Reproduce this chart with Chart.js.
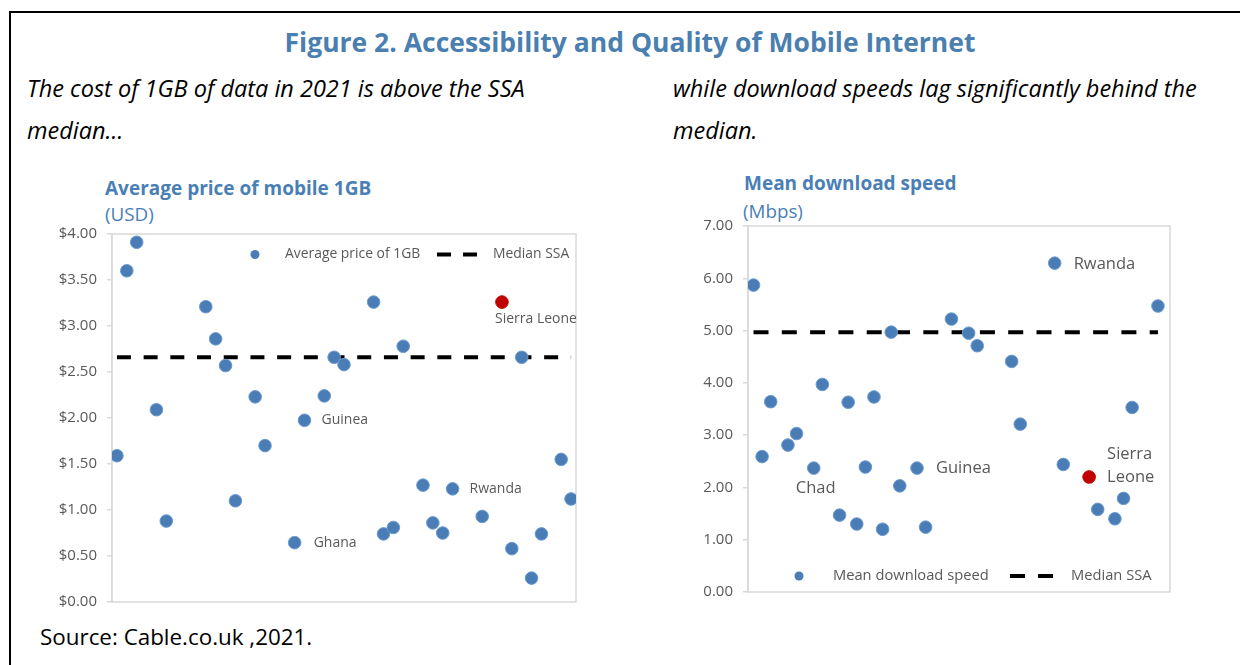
<!DOCTYPE html>
<html>
<head>
<meta charset="utf-8">
<script src="https://cdn.jsdelivr.net/npm/chart.js@4.4.1/dist/chart.umd.min.js"></script>
<style>
  html, body { margin:0; padding:0; width:1240px; height:665px; overflow:hidden; background:#fff; }
  body { position:relative; font-family:"Open Sans", "Noto Sans", sans-serif; }
  .frame { position:absolute; left:9px; top:11px; width:1300px; height:800px; border:2px solid #000; box-sizing:border-box; }
  .t { position:absolute; white-space:nowrap; }
  #mainTitle { left:0; width:1260px; text-align:center; top:24px; line-height:36px; font-size:26.5px; font-weight:700; color:#4a7fb0; }
  .sub { font-size:23.5px; font-style:italic; color:#000; line-height:42px; }
  .ctitle { font-size:19px; font-weight:700; color:#4a7fb5; line-height:26px; }
  .cunit { font-size:18.8px; color:#4a7fb5; line-height:26px; }
  #source { left:40px; top:622px; font-size:22.4px; line-height:30px; color:#000; }
  canvas { position:absolute; }
</style>
</head>
<body>
<div class="frame"></div>
<div id="mainTitle" class="t">Figure 2. Accessibility and Quality of Mobile Internet</div>
<div class="t sub" style="left:27px; top:67px;">The cost of 1GB of data in 2021 is above the SSA<br>median…</div>
<div class="t sub" style="left:673px; top:67px;">while download speeds lag significantly behind the<br>median.</div>
<div class="t ctitle" style="left:105px; top:175px;">Average price of mobile 1GB</div>
<div class="t cunit" style="left:105px; top:201px;">(USD)</div>
<div class="t ctitle" style="left:744px; top:170px;">Mean download speed</div>
<div class="t cunit" style="left:743px; top:198px;">(Mbps)</div>
<div id="source" class="t">Source: Cable.co.uk ,2021.</div>

<canvas id="c1" width="550" height="406" style="left:40px; top:215px;"></canvas>
<canvas id="c2" width="510" height="404" style="left:680px; top:207px;"></canvas>

<script>
// ---------- DATA ----------
// Left chart: average price of 1GB (USD), countries positioned along a hidden x index
const priceX      = [1,2,3,5,6,10,11,12,13,15,16,19,20,22,23,24,27,28,29,30,32,33,34,35,38,40,41,42,43,44,46,47];
const priceValues = [1.59,3.60,3.91,2.09,0.88,3.21,2.86,2.57,1.10,2.23,1.70,0.645,1.975,2.24,2.66,2.58,3.26,0.74,0.81,2.78,1.27,0.86,0.75,1.23,0.93,3.26,0.58,2.66,0.26,0.74,1.55,1.12];
const priceHighlight = [25];               // Sierra Leone (red)
const priceMedianX = [1, 47];
const priceMedian  = 2.66;
const priceTicks   = ['$0.00','$0.50','$1.00','$1.50','$2.00','$2.50','$3.00','$3.50','$4.00'];
const priceLabelIdx  = [11, 12, 23, 25];
const priceLabelText = [['Ghana'], ['Guinea'], ['Rwanda'], ['Sierra Leone']];

// Right chart: mean download speed (Mbps)
const speedX      = [1,2,3,5,6,8,9,11,12,13,14,15,16,17,18,20,21,24,26,27,31,32,36,37,40,41,43,44,45,48];
const speedValues = [5.87,2.59,3.64,2.81,3.03,2.37,3.97,1.47,3.63,1.30,2.39,3.73,1.20,4.97,2.03,2.37,1.24,5.22,4.95,4.71,4.41,3.21,6.29,2.44,2.20,1.58,1.40,1.79,3.53,5.47];
const speedHighlight = [24];               // Sierra Leone (red)
const speedMedianX = [1, 48];
const speedMedian  = 4.97;
const speedTicks   = ['0.00','1.00','2.00','3.00','4.00','5.00','6.00','7.00'];
const speedLabelIdx  = [22, 15, 5, 24];
const speedLabelText = [['Rwanda'], ['Guinea'], ['Chad'], ['Sierra', 'Leone']];

const seriesNames = { price: 'Average price of 1GB', speed: 'Mean download speed', median: 'Median SSA' };

// ---------- STYLE ----------
const FONT = '"Open Sans", "Noto Sans", sans-serif';
const BLUE = '#4a7db5', BLUE_EDGE = '#6d9bd0', RED = '#c00000', GRID = '#d9d9d9', TXT = '#595959';

const overlay = {
  id: 'overlay',
  beforeDatasetsDraw(chart, args, o) {
    const a = chart.chartArea, ctx = chart.ctx;
    ctx.save();
    ctx.strokeStyle = GRID; ctx.lineWidth = 1.5;
    ctx.strokeRect(a.left, a.top, a.right - a.left, a.bottom - a.top);
    ctx.restore();
  },
  afterDraw(chart, args, o) {
    const ctx = chart.ctx, a = chart.chartArea;
    const meta = chart.getDatasetMeta(0);
    ctx.save();
    ctx.fillStyle = TXT;
    ctx.textBaseline = 'middle';
    ctx.textAlign = 'left';
    // data labels
    ctx.font = o.labelSize + 'px ' + FONT;
    o.labelIdx.forEach((idx, k) => {
      const p = meta.data[idx];
      const off = o.labelOffsets[k];
      o.labelText[k].forEach((line, j) => {
        ctx.fillText(line, p.x + off[0], p.y + off[1] + j * o.labelLineH);
      });
    });
    // legend
    const L = o.legend;
    ctx.font = L.size + 'px ' + FONT;
    const ly = a.top + L.dy;
    ctx.fillStyle = BLUE;
    ctx.beginPath(); ctx.arc(a.left + L.marker, ly, 4.5, 0, Math.PI * 2); ctx.fill();
    ctx.fillStyle = TXT;
    ctx.fillText(L.text1, a.left + L.t1, ly);
    ctx.strokeStyle = '#000'; ctx.lineWidth = 4; ctx.setLineDash(L.dash);
    ctx.beginPath(); ctx.moveTo(a.left + L.l1, ly); ctx.lineTo(a.left + L.l2, ly); ctx.stroke();
    ctx.setLineDash([]);
    ctx.fillText(L.text2, a.left + L.t2, ly);
    ctx.restore();
  }
};

function makeChart(id, xs, ys, hi, medX, med, ticks, yMax, step, xMin, xMax, yWidth, pad, dash, overlayOpts, name) {
  const pts = xs.map((x, i) => ({ x: x, y: ys[i] }));
  const fills = ys.map((v, i) => hi.includes(i) ? RED : BLUE);
  const edges = ys.map((v, i) => hi.includes(i) ? RED : BLUE_EDGE);
  return new Chart(document.getElementById(id), {
    type: 'scatter',
    data: {
      datasets: [
        { label: name, data: pts, backgroundColor: fills, borderColor: edges, borderWidth: 1, pointRadius: 6.3, pointHoverRadius: 6.3 },
        { label: seriesNames.median, type: 'line', data: medX.map(x => ({ x: x, y: med })), borderColor: '#000',
          borderWidth: 4, borderDash: dash, pointRadius: 0, showLine: true, fill: false, borderCapStyle: 'butt' }
      ]
    },
    options: {
      responsive: false, animation: false, events: [],
      layout: { padding: pad },
      plugins: { legend: { display: false }, tooltip: { enabled: false }, overlay: overlayOpts },
      scales: {
        x: { type: 'linear', min: xMin, max: xMax, display: false },
        y: {
          min: 0, max: yMax,
          ticks: { stepSize: step, color: TXT, font: { family: FONT, size: 15 }, padding: 10,
                   callback: (v) => ticks[Math.round(v / step)] },
          grid: { drawOnChartArea: false, tickLength: 5, color: GRID, lineWidth: 1.5 },
          border: { display: true, color: GRID, width: 1.5 },
          afterFit(s) { s.width = yWidth; }
        }
      }
    },
    plugins: [overlay]
  });
}

makeChart('c1', priceX, priceValues, priceHighlight, priceMedianX, priceMedian, priceTicks, 4, 0.5, 0.5, 47.5, 72,
  { top: 0, right: 14, bottom: 19, left: 0 }, [14, 12.7],
  { labelIdx: priceLabelIdx, labelText: priceLabelText, labelSize: 14, labelLineH: 23,
    labelOffsets: [[19, 0], [17, 0], [17, 0], [-7, 17]],
    legend: { size: 13.9, dy: 20.5, marker: 143, t1: 173, l1: 325, l2: 366, t2: 381, dash: [14, 12],
              text1: seriesNames.price, text2: seriesNames.median } },
  seriesNames.price);

makeChart('c2', speedX, speedValues, speedHighlight, speedMedianX, speedMedian, speedTicks, 7, 1, 0.36, 49.4, 68,
  { top: 0, right: 20, bottom: 19, left: 0 }, [15, 13.3],
  { labelIdx: speedLabelIdx, labelText: speedLabelText, labelSize: 16.5, labelLineH: 23,
    labelOffsets: [[19, 1], [19, 0], [-18, 20], [18, -23]],
    legend: { size: 14.7, dy: 350, marker: 51, t1: 85, l1: 262, l2: 305, t2: 323, dash: [15, 13],
              text1: seriesNames.speed, text2: seriesNames.median } },
  seriesNames.speed);
</script>
</body>
</html>
